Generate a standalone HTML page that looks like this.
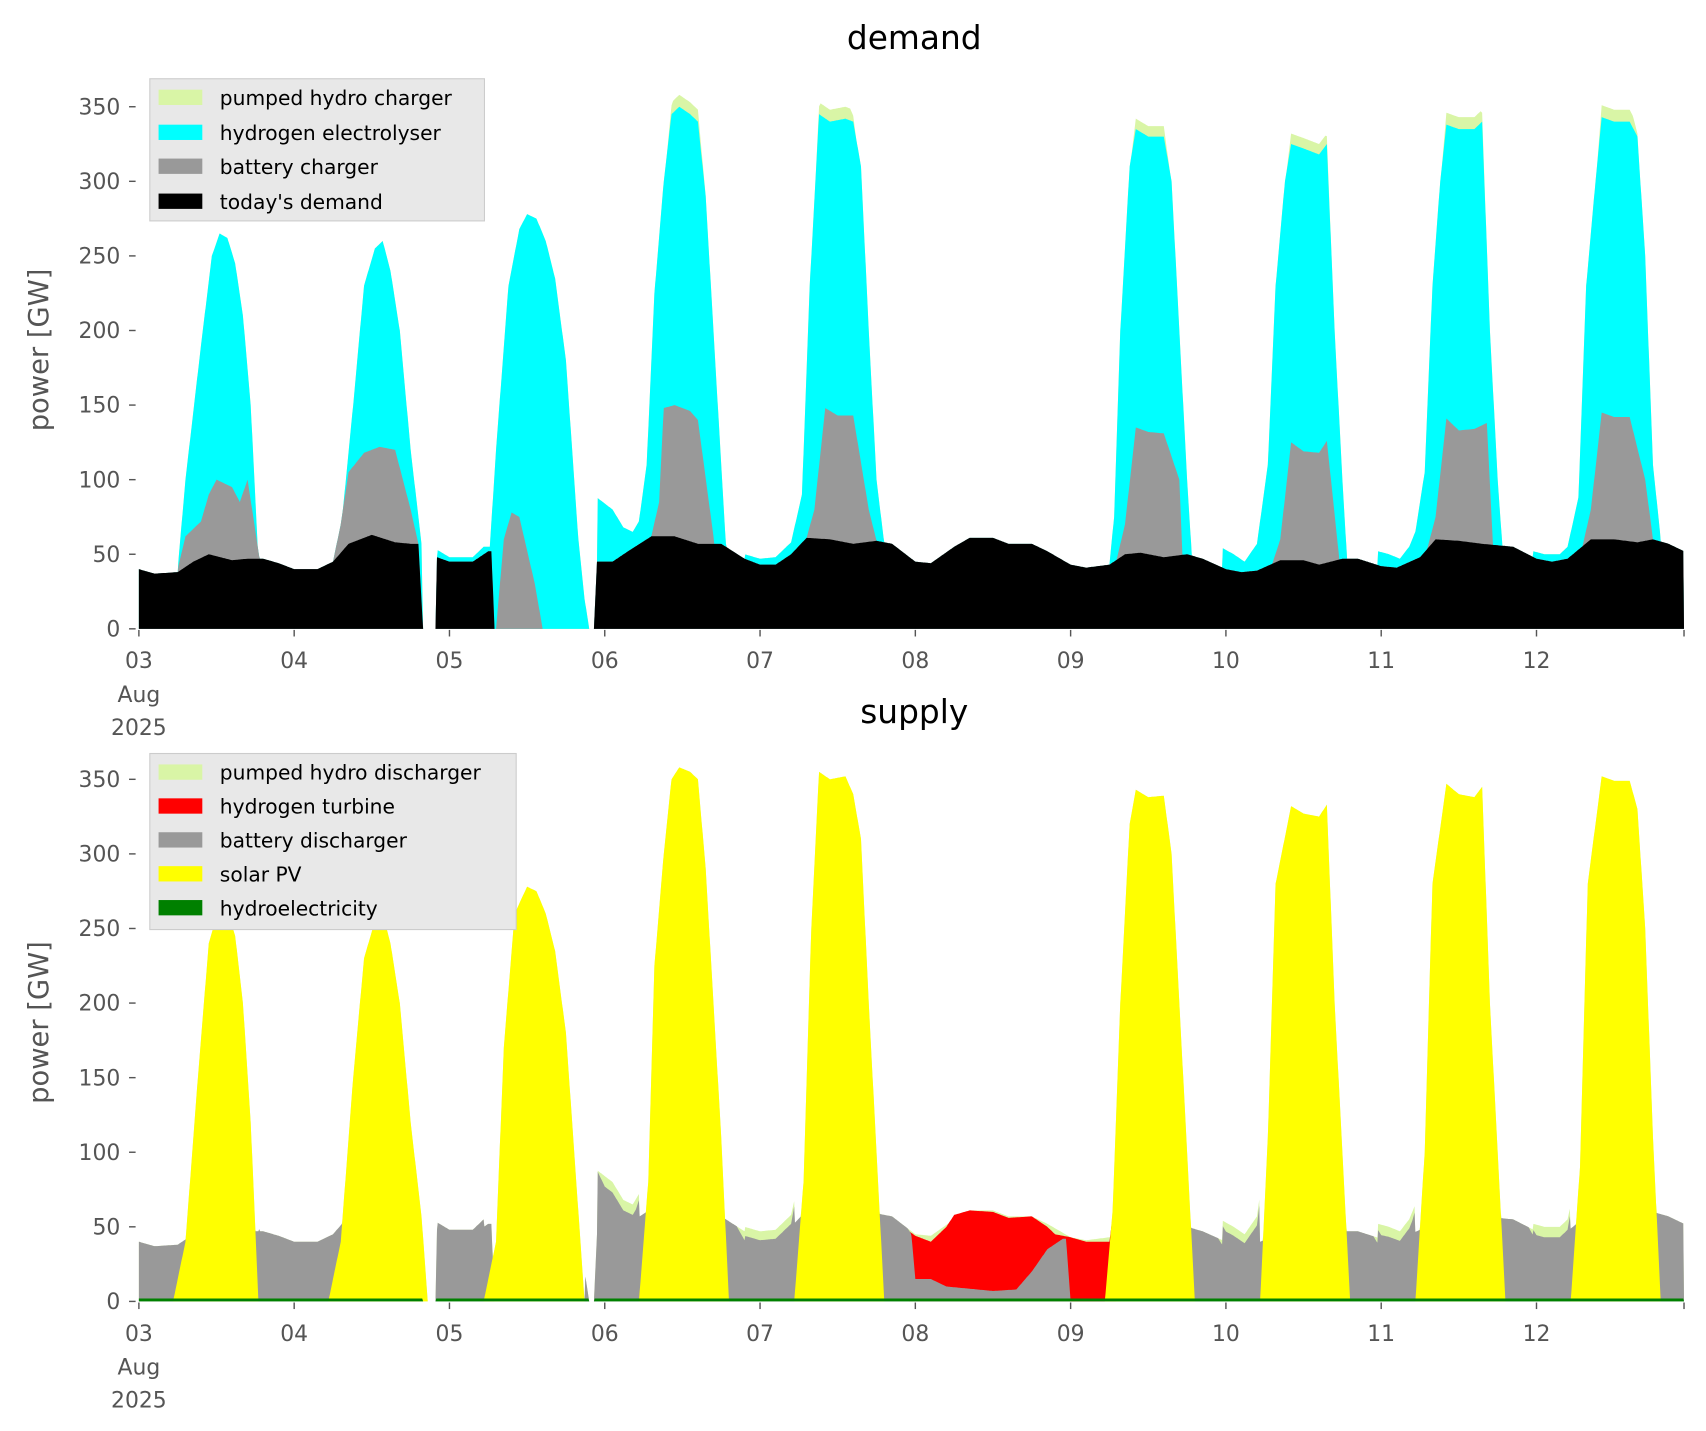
<!DOCTYPE html>
<html><head><meta charset="utf-8">
<style>html,body{margin:0;padding:0;background:#fff}svg{display:block}text{font-family:"DejaVu Sans","Liberation Sans",sans-serif}</style>
</head><body>
<svg id="s" width="1706" height="1431" viewBox="0 0 1560 1308.5" preserveAspectRatio="none" xmlns="http://www.w3.org/2000/svg">
<rect width="1560" height="1308.5" fill="#fff"/>
<g id="top"></g><g id="bot"></g>
<g id="axes" font-size="20" fill="#555"></g>
<text x="836" y="45" font-size="30" text-anchor="middle" fill="#000">demand</text>
<text x="836" y="661" font-size="30" text-anchor="middle" fill="#000">supply</text>
<text transform="translate(44,320) rotate(-90)" font-size="25" text-anchor="middle" fill="#555">power [GW]</text>
<text transform="translate(44,935) rotate(-90)" font-size="25" text-anchor="middle" fill="#555">power [GW]</text>
<g font-size="18.5" fill="#000">
<rect x="137" y="72" width="306" height="130" fill="#e8e8e8" stroke="#ccc"/>
<rect x="145" y="82" width="40" height="14" fill="#d9f5a6"/><text x="201" y="96">pumped hydro charger</text>
<rect x="145" y="114" width="40" height="14" fill="#00ffff"/><text x="201" y="128">hydrogen electrolyser</text>
<rect x="145" y="145" width="40" height="14" fill="#999"/><text x="201" y="159">battery charger</text>
<rect x="145" y="177" width="40" height="14" fill="#000"/><text x="201" y="191">today's demand</text>
<rect x="137" y="689" width="335" height="161" fill="#e8e8e8" stroke="#ccc"/>
<rect x="145" y="699" width="40" height="14" fill="#d9f5a6"/><text x="201" y="713">pumped hydro discharger</text>
<rect x="145" y="730" width="40" height="14" fill="#ff0000"/><text x="201" y="744">hydrogen turbine</text>
<rect x="145" y="761" width="40" height="14" fill="#999"/><text x="201" y="775">battery discharger</text>
<rect x="145" y="792" width="40" height="14" fill="#ffff00"/><text x="201" y="806">solar PV</text>
<rect x="145" y="823" width="40" height="14" fill="#008000"/><text x="201" y="837">hydroelectricity</text>
</g>
</svg>
<script>
(function(){
var NS="http://www.w3.org/2000/svg";
function X(t){return 127+(t-3)*142.0;}
var K=1.364;
function seg(segs,t){for(var i=0;i<segs.length;i++){var s=segs[i];if(t>=s[0][0]&&t<=s[s.length-1][0]){for(var j=1;j<s.length;j++){if(t<=s[j][0]){var a=s[j-1],b=s[j];var f=(b[0]-a[0])?(t-a[0])/(b[0]-a[0]):0;return a[1]+f*(b[1]-a[1]);}}return s[s.length-1][1];}}return null;}
function P(str){return str.trim().split(/\s+/).map(function(p){var q=p.split(':');return [+q[0],+q[1]];});}
var black=[P("3.0:40 3.1:37 3.25:38 3.35:45 3.45:50 3.6:46 3.7:47 3.8:47 3.9:44 4.0:40 4.15:40 4.25:45 4.35:57 4.5:63 4.65:58 4.75:57 4.8:57 4.83:0 4.91:0 4.92:48 5.0:45 5.15:45 5.25:52 5.27:52 5.29:0 5.93:0 5.95:45 6.05:45 6.15:52 6.3:62 6.45:62 6.6:57 6.75:57 6.9:47 7.0:43 7.1:43 7.2:50 7.3:61 7.45:60 7.6:57 7.75:59 7.85:57 8.0:45 8.1:44 8.25:55 8.35:61 8.5:61 8.6:57 8.75:57 8.85:52 9.0:43 9.1:41 9.25:43 9.35:50 9.45:51 9.6:48 9.75:50 9.85:47 10.0:40 10.1:38 10.2:39 10.35:46 10.5:46 10.6:43 10.75:47 10.85:47 11.0:42 11.1:41 11.25:48 11.35:60 11.5:59 11.65:57 11.75:56 11.85:55 12.0:47 12.1:45 12.2:47 12.35:60 12.5:60 12.65:58 12.75:60 12.85:57 12.95:52")];
var gray=["3.25:40 3.3:62 3.4:72 3.45:90 3.5:100 3.6:95 3.65:85 3.7:100 3.78:45","4.25:45 4.3:70 4.35:105 4.45:118 4.55:122 4.65:120 4.75:80 4.8:57","5.3:0 5.35:60 5.4:78 5.45:75 5.55:30 5.6:0","6.3:62 6.35:85 6.38:148 6.45:150 6.55:146 6.6:140 6.7:62","7.3:61 7.35:80 7.42:148 7.5:143 7.6:143 7.7:80 7.75:59","9.3:48 9.35:70 9.42:135 9.5:132 9.6:131 9.7:100 9.72:50","10.3:44 10.35:60 10.42:125 10.5:119 10.6:118 10.65:126 10.73:47","11.3:55 11.35:75 11.42:141 11.5:133 11.6:134 11.68:138 11.72:56","12.3:57 12.35:80 12.42:145 12.5:142 12.6:142 12.7:100 12.75:60"].map(P);
var cyan=["3.25:40 3.3:100 3.4:190 3.47:250 3.52:265 3.57:262 3.62:245 3.67:210 3.72:150 3.77:45","4.25:45 4.3:65 4.38:150 4.45:230 4.52:255 4.57:260 4.62:240 4.68:200 4.75:120 4.82:57 4.83:0","4.92:53 5.0:48 5.15:48 5.22:55 5.26:55 5.3:120 5.38:230 5.45:268 5.5:278 5.56:275 5.62:260 5.68:235 5.75:180 5.83:60 5.87:20 5.9:0","5.95:88 6.05:80 6.12:68 6.18:65 6.22:72 6.27:110 6.32:225 6.38:300 6.43:345 6.48:350 6.55:345 6.6:340 6.65:290 6.7:200 6.75:110 6.78:57","6.9:50 7.0:47 7.1:48 7.2:58 7.27:90 7.32:230 7.38:345 7.45:340 7.55:342 7.6:340 7.65:310 7.7:200 7.75:100 7.8:57","9.25:43 9.28:75 9.32:200 9.38:310 9.42:335 9.5:330 9.6:330 9.65:300 9.7:200 9.75:100 9.78:50","9.98:54 10.05:50 10.12:45 10.2:57 10.27:110 10.32:230 10.38:300 10.42:325 10.5:322 10.6:318 10.65:325 10.7:200 10.75:100 10.78:47","10.98:52 11.05:50 11.12:47 11.18:55 11.22:65 11.28:105 11.33:230 11.38:300 11.42:338 11.5:335 11.6:335 11.65:340 11.7:200 11.75:100 11.78:56","11.98:52 12.05:50 12.15:50 12.2:55 12.27:88 12.32:230 12.38:300 12.42:343 12.5:340 12.6:340 12.65:330 12.7:250 12.75:110 12.8:60"].map(P);
var pump=["6.4:0 6.44:8 6.6:8 6.65:0","7.36:0 7.39:8 7.58:8 7.62:0","9.39:0 9.42:7 9.6:7 9.64:0","10.39:0 10.42:7 10.64:7 10.68:0","11.39:0 11.42:8 11.64:8 11.68:0","12.39:0 12.42:8 12.62:8 12.66:0"].map(P);
var pdis=["5.95:0 6.0:7 6.2:7 6.25:0","6.85:0 6.9:6 7.2:6 7.25:0","7.95:0 8.0:4 8.1:4 8.15:0","9.95:0 10.0:6 10.2:6 10.25:0","10.95:0 11.0:7 11.2:6 11.25:0","11.95:0 12.0:7 12.2:7 12.25:0"].map(P);
var sgray=[P("7.97:50 8.0:15 8.1:15 8.2:10 8.5:7 8.65:8 8.75:20 8.85:35 8.95:42 8.97:42 9.0:0 9.25:0 9.3:0")];
var red=[P("7.96:47 8.0:44 8.05:42 8.1:40 8.2:50 8.25:58 8.35:61 8.5:60 8.6:56 8.75:57 8.85:50 8.9:45 9.0:43 9.1:40 9.25:40 9.3:80")];
var solar=["3.22:0 3.3:40 3.38:150 3.45:240 3.52:265 3.57:262 3.62:245 3.67:200 3.72:120 3.77:0","4.22:0 4.3:40 4.38:150 4.45:230 4.52:255 4.57:260 4.62:240 4.68:200 4.75:120 4.82:57 4.86:0","5.22:0 5.3:40 5.35:170 5.42:260 5.5:278 5.56:275 5.62:260 5.68:235 5.75:180 5.83:60 5.87:0","6.22:0 6.28:80 6.32:225 6.38:300 6.43:350 6.48:358 6.55:355 6.6:350 6.65:290 6.7:200 6.75:110 6.8:0","7.22:0 7.28:80 7.33:250 7.38:355 7.45:350 7.55:352 7.6:340 7.65:310 7.7:200 7.75:100 7.8:0","9.22:0 9.27:60 9.32:200 9.38:320 9.42:343 9.5:338 9.6:339 9.65:300 9.7:200 9.75:100 9.8:0","10.22:0 10.27:110 10.32:280 10.42:332 10.5:327 10.6:325 10.65:333 10.7:200 10.75:100 10.8:0","11.22:0 11.28:100 11.33:280 11.42:347 11.5:340 11.6:338 11.65:345 11.7:200 11.75:100 11.8:0","12.22:0 12.28:90 12.33:280 12.42:352 12.5:349 12.6:349 12.65:330 12.7:250 12.75:110 12.8:0"].map(P);
var T=[],B=[],G=[],C=[],TOT=[],STOT=[],SG=[],SY=[],HY=[];
for(var t=3;t<=12.9501;t+=0.005){
 var b=seg(black,t);var g=seg(gray,t);if(g===null)g=b;g=Math.max(g,b);
 var c=seg(cyan,t);if(c===null)c=g;c=Math.max(c,g);
 var p=seg(pump,t)||0;var tot=c+p;
 var pd=seg(pdis,t)||0;
 var sy=seg(solar,t)||0;
 var sg=seg(sgray,t);
 if(sg===null){sg=sy>0?Math.min(b,tot):Math.max(tot-pd,0);}
 var st=sy>0?Math.max(sy,Math.min(b,tot)):tot;
 T.push(t);B.push(b);G.push(g);C.push(c);TOT.push(tot);STOT.push(st);SG.push(sg);SY.push(sy);HY.push(tot>1?2:0);
}
function area(vals,y0,fill,parent,ts){ts=ts||T;var d="M"+X(ts[0]).toFixed(1)+" "+y0;for(var i=0;i<ts.length;i++){d+="L"+X(ts[i]).toFixed(1)+" "+(y0-vals[i]*K).toFixed(1);}d+="L"+X(ts[ts.length-1]).toFixed(1)+" "+y0+"Z";var e=document.createElementNS(NS,"path");e.setAttribute("d",d);e.setAttribute("fill",fill);document.getElementById(parent).appendChild(e);}
var Y1=575,Y2=1190;
area(TOT,Y1,"#d9f5a6","top");area(C,Y1,"#00ffff","top");area(G,Y1,"#999999","top");area(B,Y1,"#000000","top");
area(STOT,Y2,"#d9f5a6","bot");
var rt=[],rv=[];for(var t2=7.96;t2<=9.3;t2+=0.005){rt.push(t2);rv.push(seg(red,t2));}
area(rv,Y2,"#ff0000","bot",rt);
area(SG,Y2,"#999999","bot");area(SY,Y2,"#ffff00","bot");area(HY,Y2,"#008000","bot");
var ax=document.getElementById("axes");
function el(tag,attrs,txt){var e=document.createElementNS(NS,tag);for(var k in attrs)e.setAttribute(k,attrs[k]);if(txt)e.textContent=txt;ax.appendChild(e);return e;}
[Y1,Y2].forEach(function(y0,pi){
 for(var v=0;v<=350;v+=50){var y=y0-v*K;el("line",{x1:118,x2:124,y1:y,y2:y,stroke:"#555","stroke-width":1.3});el("text",{x:110,y:y+7,"text-anchor":"end"},String(v));}
 var days=["03","04","05","06","07","08","09","10","11","12"];
 for(var i=0;i<10;i++){var x=X(3+i);el("line",{x1:x,x2:x,y1:y0+1,y2:y0+7,stroke:"#555","stroke-width":1.3});el("text",{x:x,y:y0+36,"text-anchor":"middle"},days[i]);}
 el("line",{x1:X(12.95),x2:X(12.95),y1:y0+1,y2:y0+7,stroke:"#555","stroke-width":1.3});
 el("text",{x:127,y:y0+67,"text-anchor":"middle"},"Aug");el("text",{x:127,y:y0+97,"text-anchor":"middle"},"2025");
});
})();
</script>
</body></html>
